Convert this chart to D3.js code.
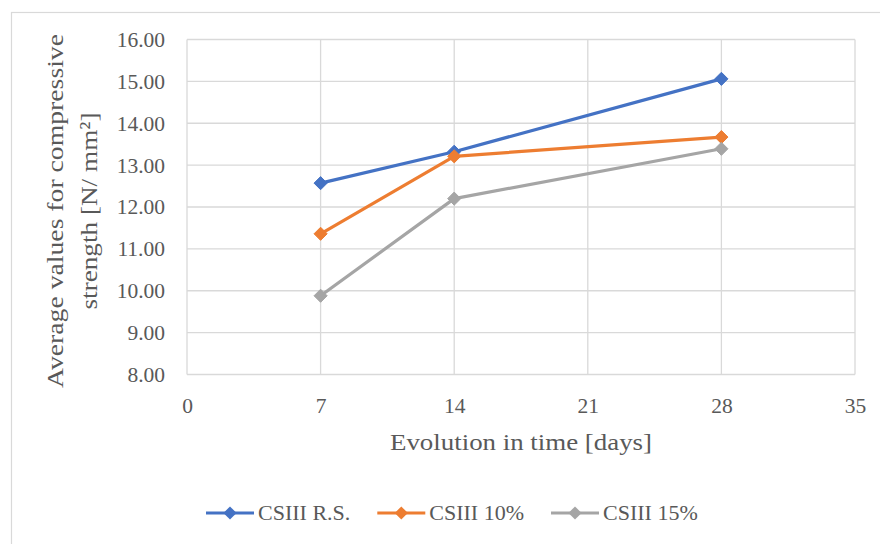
<!DOCTYPE html>
<html>
<head>
<meta charset="utf-8">
<script src="https://cdn.jsdelivr.net/npm/d3@7"></script>
<style>
  html, body { margin: 0; padding: 0; background: #ffffff; }
  svg { display: block; }
  text { font-family: "Liberation Serif", "DejaVu Serif", serif; fill: #595959; }
</style>
</head>
<body>
<svg id="chart" width="880" height="544"></svg>
<script>
// Compressive strength over curing time for three mixes
const days = [7, 14, 28];
const seriesNames = ["CSIII R.S.", "CSIII 10%", "CSIII 15%"];
const csiiiRS = [12.57, 13.32, 15.06];
const csiii10 = [11.36, 13.21, 13.67];
const csiii15 = [9.88, 12.20, 13.39];
const seriesColors = ["#4472C4", "#ED7D31", "#A5A5A5"];
const xTicks = [0, 7, 14, 21, 28, 35];
const yTicks = [8, 9, 10, 11, 12, 13, 14, 15, 16];
const xTitle = "Evolution in time [days]";
const yTitleLines = ["Average values for compressive", "strength [N/ mm²]"];

const series = seriesNames.map((name, i) => ({
  name,
  color: seriesColors[i],
  values: [csiiiRS, csiii10, csiii15][i].map((v, j) => ({ day: days[j], value: v }))
}));

const svg = d3.select("#chart");
const plot = { left: 187, right: 855, top: 39.5, bottom: 374.5 };

// outer chart frame (runs past the right and bottom edges)
svg.append("rect")
  .attr("x", 11.5).attr("y", 12.5)
  .attr("width", 900).attr("height", 560)
  .attr("fill", "#ffffff")
  .attr("stroke", "#d9d9d9").attr("stroke-width", 1.2);

const x = d3.scaleLinear().domain([0, 35]).range([plot.left, plot.right]);
const y = d3.scaleLinear().domain([8, 16]).range([plot.bottom, plot.top]);

// gridlines
const grid = svg.append("g").attr("stroke", "#d9d9d9").attr("stroke-width", 1.3);
grid.selectAll("line.h").data(yTicks).join("line")
  .attr("x1", plot.left).attr("x2", plot.right)
  .attr("y1", d => y(d)).attr("y2", d => y(d));
grid.selectAll("line.v").data(xTicks).join("line")
  .attr("y1", plot.top).attr("y2", plot.bottom)
  .attr("x1", d => x(d)).attr("x2", d => x(d));

// y axis labels
const yAxis = d3.axisLeft(y).tickValues(yTicks).tickFormat(d3.format(".2f")).tickSize(0).tickPadding(22);
svg.append("g").attr("transform", `translate(${plot.left},0)`).call(yAxis)
  .call(g => g.select(".domain").remove())
  .selectAll("text")
  .attr("font-family", "Liberation Serif, serif")
  .attr("font-size", 21.5).attr("fill", "#595959");

// x axis labels
const xAxis = d3.axisBottom(x).tickValues(xTicks).tickFormat(d3.format("d")).tickSize(0).tickPadding(23);
svg.append("g").attr("transform", `translate(0,${plot.bottom})`).call(xAxis)
  .call(g => g.select(".domain").remove())
  .selectAll("text")
  .attr("font-family", "Liberation Serif, serif")
  .attr("font-size", 21.5).attr("fill", "#595959");

// axis titles
svg.append("text")
  .attr("x", (plot.left + plot.right) / 2).attr("y", 450)
  .attr("text-anchor", "middle")
  .attr("font-size", 24)
  .attr("textLength", 262).attr("lengthAdjust", "spacingAndGlyphs")
  .text(xTitle);

const yTitle = svg.append("g");
yTitle.append("text")
  .attr("transform", "translate(63,211) rotate(-90)")
  .attr("text-anchor", "middle")
  .attr("font-size", 24)
  .attr("textLength", 354).attr("lengthAdjust", "spacingAndGlyphs")
  .text(yTitleLines[0]);
yTitle.append("text")
  .attr("transform", "translate(97,211) rotate(-90)")
  .attr("text-anchor", "middle")
  .attr("font-size", 24)
  .attr("textLength", 197).attr("lengthAdjust", "spacingAndGlyphs")
  .text(yTitleLines[1]);

// series lines and diamond markers
const line = d3.line().x(d => x(d.day)).y(d => y(d.value));
const diamond = d3.symbol().type(d3.symbolDiamond2).size(110);

series.forEach(s => {
  svg.append("path")
    .datum(s.values)
    .attr("d", line)
    .attr("fill", "none")
    .attr("stroke", s.color)
    .attr("stroke-width", 3.2)
    .attr("stroke-linejoin", "round")
    .attr("stroke-linecap", "round");
  svg.append("g").selectAll("path").data(s.values).join("path")
    .attr("transform", d => `translate(${x(d.day)},${y(d.value)})`)
    .attr("d", diamond)
    .attr("fill", s.color)
    .attr("stroke", s.color).attr("stroke-width", 1);
});

// legend
const legend = svg.append("g");
let lx = 206;
const ly = 513;
series.forEach(s => {
  const item = legend.append("g");
  item.append("line")
    .attr("x1", lx).attr("x2", lx + 48)
    .attr("y1", ly).attr("y2", ly)
    .attr("stroke", s.color).attr("stroke-width", 3.2);
  item.append("path")
    .attr("transform", `translate(${lx + 24},${ly})`)
    .attr("d", diamond)
    .attr("fill", s.color);
  const t = item.append("text")
    .attr("x", lx + 52).attr("y", ly + 7)
    .attr("font-size", 22)
    .text(s.name);
  lx += 52 + t.node().getComputedTextLength() + 27;
});
</script>
</body>
</html>
